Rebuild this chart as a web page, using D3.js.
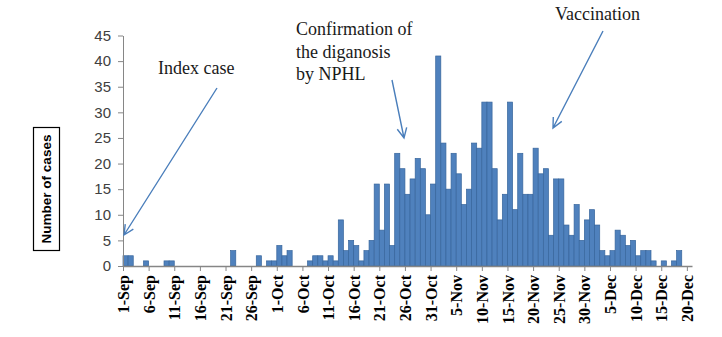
<!DOCTYPE html>
<html>
<head>
<meta charset="utf-8">
<script src="https://cdn.jsdelivr.net/npm/d3@7"></script>
<style>
  body { margin: 0; background: #fff; }
  svg { display: block; }
</style>
</head>
<body>
<svg id="chart" width="722" height="337"></svg>
<script>
// daily case counts from 1-Sep to 20-Dec
const startDate = new Date(Date.UTC(2014, 8, 1));

const cases = [
  2, 2, 0, 0, 1, 0, 0, 0, 1, 1,
  0, 0, 0, 0, 0, 0, 0, 0, 0, 0,
  0, 3, 0, 0, 0, 0, 2, 0, 1, 1,
  4, 2, 3, 0, 0, 0, 1, 2, 2, 1,
  2, 1, 9, 3, 5, 4, 1, 3, 5, 16,
  7, 16, 4, 22, 19, 14, 17, 21, 19, 10,
  16, 41, 24, 15, 22, 18, 12, 15, 24, 23,
  32, 32, 19, 9, 14, 32, 11, 22, 14, 14,
  23, 18, 19, 6, 17, 17, 8, 6, 12, 5,
  9, 11, 8, 3, 2, 3, 7, 6, 4, 5,
  2, 3, 3, 1, 0, 1, 0, 1, 3, 0,
  0
];

const tickLabels = [
  '1-Sep', '6-Sep', '11-Sep', '16-Sep', '21-Sep', '26-Sep',
  '1-Oct', '6-Oct', '11-Oct', '16-Oct', '21-Oct', '26-Oct', '31-Oct',
  '5-Nov', '10-Nov', '15-Nov', '20-Nov', '25-Nov', '30-Nov',
  '5-Dec', '10-Dec', '15-Dec', '20-Dec'
];

const yTicks = [0, 5, 10, 15, 20, 25, 30, 35, 40, 45];

const notes = [
  { lines: ['Index case'], x: 158, y: 74, from: [217, 88], to: [124, 235] },
  { lines: ['Confirmation of', 'the diganosis', 'by NPHL'], x: 296, y: 35, from: [392, 80], to: [404, 138] },
  { lines: ['Vaccination'], x: 555, y: 20, from: [603, 31], to: [553, 128] }
];

const svg = d3.select('#chart');

const days = cases.map((v, i) => ({ date: d3.utcDay.offset(startDate, i), value: v }));

const x = d3.scaleUtc()
  .domain([startDate, d3.utcDay.offset(startDate, cases.length)])
  .range([123, 692]);

const y = d3.scaleLinear()
  .domain([0, 45])
  .range([266, 35.5]);

// bars
svg.append('g')
  .selectAll('rect')
  .data(days.filter(d => d.value > 0))
  .join('rect')
    .attr('x', d => x(d.date))
    .attr('y', d => y(d.value))
    .attr('width', d => x(d3.utcDay.offset(d.date, 1)) - x(d.date))
    .attr('height', d => y(0) - y(d.value))
    .attr('fill', '#4f81bd')
    .attr('stroke', '#37659c')
    .attr('stroke-width', 0.7)
;

// y axis
const yAxis = svg.append('g')
  .attr('transform', 'translate(123,0)')
  .call(d3.axisLeft(y).tickValues(yTicks).tickSize(5).tickSizeOuter(0).tickPadding(7));

yAxis.select('.domain').attr('stroke', '#868686');
yAxis.selectAll('.tick line').attr('stroke', '#868686');
yAxis.selectAll('text')
  .attr('font-family', 'Liberation Sans, Arial, sans-serif')
  .attr('font-size', 15)
  .attr('fill', '#404040')
;

// x axis
const tickDates = tickLabels.map((_, i) => d3.utcDay.offset(startDate, i * 5));

const xAxis = svg.append('g')
  .attr('transform', 'translate(0,266)')
  .call(d3.axisBottom(x).tickValues(tickDates).tickFormat((d, i) => tickLabels[i]).tickSize(5).tickSizeOuter(0));

xAxis.select('.domain').attr('stroke', '#868686').attr('stroke-width', 1.5);
xAxis.selectAll('.tick line').attr('stroke', '#868686');
xAxis.selectAll('text')
  .attr('transform', 'rotate(-90)')
  .attr('text-anchor', 'end')
  .attr('x', -9)
  .attr('y', 0)
  .attr('dy', '0.35em')
  .attr('font-family', 'Liberation Serif, Times New Roman, serif')
  .attr('font-weight', 'bold')
  .attr('font-size', 16)
  .attr('fill', '#000')
;

// y title in a box
svg.append('rect')
  .attr('x', 33.5)
  .attr('y', 127.5)
  .attr('width', 26)
  .attr('height', 123)
  .attr('fill', 'none')
  .attr('stroke', '#000')
  .attr('stroke-width', 1.2)
;

svg.append('text')
  .text('Number of cases')
  .attr('transform', 'translate(46.5,189) rotate(-90)')
  .attr('text-anchor', 'middle')
  .attr('dy', '0.35em')
  .attr('font-family', 'Liberation Sans, Arial, sans-serif')
  .attr('font-weight', 'bold')
  .attr('font-size', 13.5)
  .attr('fill', '#000')
;

// annotations with open arrows
function arrow(g, from, to)
{
  const a = Math.atan2(to[1] - from[1], to[0] - from[0]);
  const len = 11, spread = 0.45;
  const p1 = [to[0] - len * Math.cos(a - spread), to[1] - len * Math.sin(a - spread)];
  const p2 = [to[0] - len * Math.cos(a + spread), to[1] - len * Math.sin(a + spread)];

  g.append('path')
    .attr('d', `M${ from }L${ to }M${ p1 }L${ to }L${ p2 }`)
    .attr('fill', 'none')
    .attr('stroke', '#4a7ebb')
    .attr('stroke-width', 1.4)
  ;
}

const ann = svg.append('g');

notes.forEach(n =>
{
  const t = ann.append('text')
    .attr('font-family', 'Liberation Serif, Times New Roman, serif')
    .attr('font-size', 18)
    .attr('fill', '#1a1a1a')
  ;

  n.lines.forEach((l, i) =>
  {
    t.append('tspan').attr('x', n.x).attr('y', n.y + i * 22.5).text(l);
  });

  arrow(ann, n.from, n.to);
});
</script>
</body>
</html>
